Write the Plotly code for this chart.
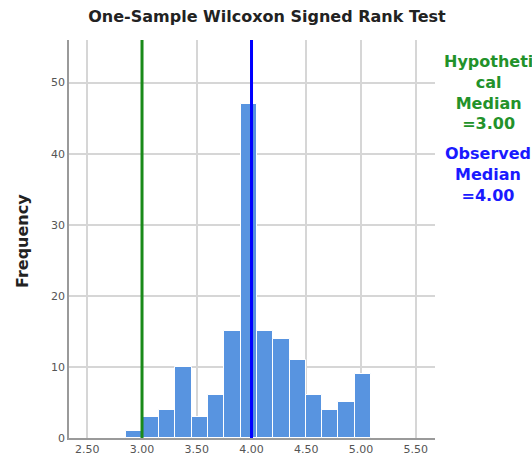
import plotly.graph_objects as go

# Data
bin_start = 2.857
bin_width = 0.149
counts = [1, 3, 4, 10, 3, 6, 15, 47, 15, 14, 11, 6, 4, 5, 9]
hyp_median = 3.00
obs_median = 4.00
x_ticks = [2.5, 3.0, 3.5, 4.0, 4.5, 5.0, 5.5]
x_tick_labels = ["2.50", "3.00", "3.50", "4.00", "4.50", "5.00", "5.50"]
y_ticks = [0, 10, 20, 30, 40, 50]

centers = [bin_start + bin_width * (i + 0.5) for i in range(len(counts))]

FONT = "DejaVu Sans, Arial, sans-serif"
W, H = 532, 463
L, T = 69, 40
R = W - 435
B = H - 438
pw, ph = W - L - R, H - T - B


def px(xpage):
    return (xpage - L) / pw


def py(ypage):
    return (H - B - ypage) / ph


fig = go.Figure()
fig.add_trace(go.Bar(
    x=centers, y=counts, width=[bin_width] * len(counts),
    marker=dict(color="#5894e0", line=dict(color="white", width=1)),
    showlegend=False, hoverinfo="x+y",
))

fig.add_shape(type="line", xref="x", yref="paper", x0=hyp_median, x1=hyp_median,
              y0=0, y1=1, line=dict(color="#1a8a1a", width=3), layer="above")
fig.add_shape(type="line", xref="x", yref="paper", x0=obs_median, x1=obs_median,
              y0=0, y1=1, line=dict(color="#0000ff", width=3), layer="above")

fig.add_annotation(xref="paper", yref="paper", x=px(488), y=py(92),
                   xanchor="center", yanchor="middle", showarrow=False,
                   text="<b>Hypotheti<br>cal<br>Median<br>=%.2f</b>" % hyp_median,
                   font=dict(family=FONT, size=16, color="#22922a"), align="center")
fig.add_annotation(xref="paper", yref="paper", x=px(488), y=py(174),
                   xanchor="center", yanchor="middle", showarrow=False,
                   text="<b>Observed<br>Median<br>=%.2f</b>" % obs_median,
                   font=dict(family=FONT, size=16, color="#1a1aff"), align="center")
fig.add_annotation(xref="paper", yref="paper", x=px(22), y=py(241),
                   xanchor="center", yanchor="middle", showarrow=False, textangle=-90,
                   text="<b>Frequency</b>",
                   font=dict(family=FONT, size=16, color="#222222"))

fig.update_layout(
    width=W, height=H,
    margin=dict(l=L, r=R, t=T, b=B, autoexpand=False),
    paper_bgcolor="white", plot_bgcolor="white",
    title=dict(text="<b>One-Sample Wilcoxon Signed Rank Test</b>",
               x=px(267), xref="paper", xanchor="center",
               y=1 - 16 / H, yanchor="middle",
               font=dict(family=FONT, size=16, color="#222222")),
    bargap=0,
    font=dict(family=FONT),
)
fig.update_xaxes(range=[2.333, 5.676], tickvals=x_ticks, ticktext=x_tick_labels,
                 showgrid=True, gridcolor="#d6d6d6", gridwidth=1.5, automargin=False,
                 showline=True, linecolor="#9a9a9a", linewidth=1.5,
                 zeroline=False, ticks="", tickfont=dict(family=FONT, size=11, color="#555555"))
fig.update_yaxes(range=[0, 56], tickvals=y_ticks, automargin=False,
                 showgrid=True, gridcolor="#d6d6d6", gridwidth=1.5,
                 showline=True, linecolor="#9a9a9a", linewidth=1.5,
                 zeroline=False, ticks="", tickfont=dict(family=FONT, size=11, color="#555555"))

fig.write_html(
    "out.html",
    config={"displayModeBar": False},
    post_script="document.body.style.margin='0';document.body.style.overflow='hidden';",
)
